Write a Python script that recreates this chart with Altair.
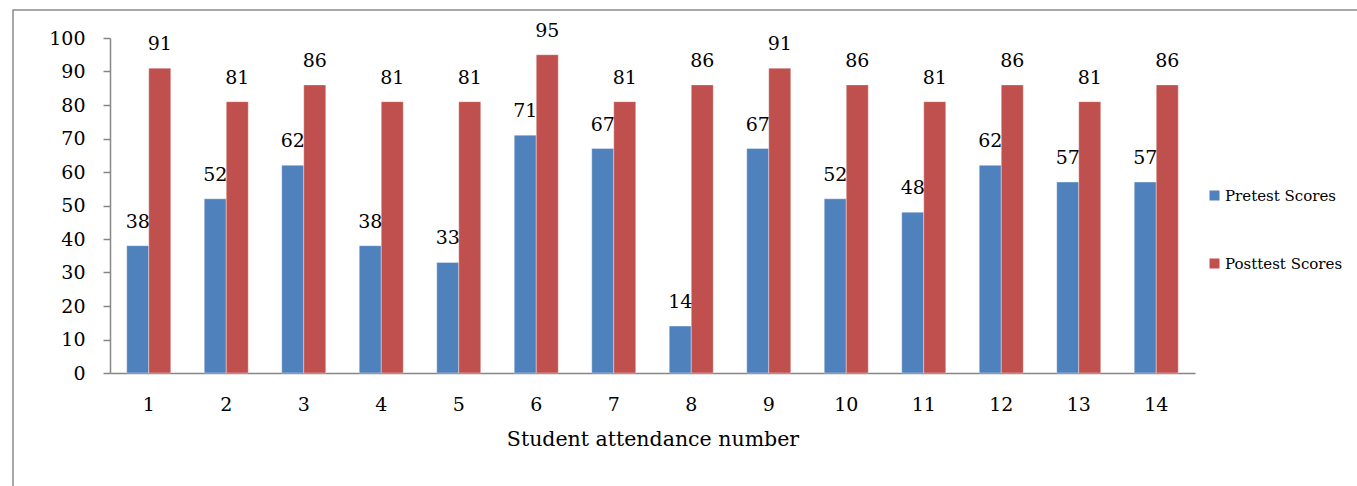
import altair as alt
import pandas as pd

students = [str(i) for i in range(1, 15)]
pretest = [38, 52, 62, 38, 33, 71, 67, 14, 67, 52, 48, 62, 57, 57]
posttest = [91, 81, 86, 81, 81, 95, 81, 86, 91, 86, 81, 86, 81, 86]
series = ["Pretest Scores", "Posttest Scores"]
colors = ["#4F81BD", "#C0504D"]
y_ticks = [0, 10, 20, 30, 40, 50, 60, 70, 80, 90, 100]

rows = []
for s, a, b in zip(students, pretest, posttest):
    rows.append({"student": s, "series": series[0], "score": a})
    rows.append({"student": s, "series": series[1], "score": b})
df = pd.DataFrame(rows)

FONT = "DejaVu Serif"

x = alt.X("student:N", sort=students,
          scale=alt.Scale(paddingInner=0.432, paddingOuter=0.216),
          axis=alt.Axis(title="Student attendance number", labelAngle=0, ticks=False,
                        labelPadding=22, titlePadding=15, domainColor="#868686",
                        domainWidth=1.5, labelFont=FONT, labelFontSize=19,
                        labelFontWeight="normal", labelColor="#000000",
                        titleFont=FONT, titleFontSize=20.5, titleFontWeight="normal",
                        titleColor="#000000"))
y = alt.Y("score:Q", scale=alt.Scale(domain=[0, 100]),
          axis=alt.Axis(title=None, values=y_ticks, grid=False, labelOverlap=False,
                        tickSize=7, tickColor="#868686", domainColor="#868686",
                        domainWidth=1.5, tickWidth=1.5, labelPadding=18,
                        labelFont=FONT, labelFontSize=19, labelColor="#000000"))
xoff = alt.XOffset("series:N", sort=series)
color = alt.Color("series:N", sort=series,
                  scale=alt.Scale(domain=series, range=colors),
                  legend=alt.Legend(title=None, orient="none", legendX=1097, legendY=150,
                                    symbolType="square", symbolSize=100,
                                    symbolStrokeWidth=0, labelFont=FONT,
                                    labelFontSize=15, labelColor="#000000",
                                    rowPadding=52, labelOffset=3))

bars = alt.Chart(df).mark_bar(stroke="#ffffff", strokeWidth=0.6, strokeOpacity=0.6).encode(
    x=x, xOffset=xoff, y=y, color=color)

labels = alt.Chart(df).mark_text(baseline="alphabetic", dy=-18, font=FONT,
                                 fontSize=19, color="#000000").encode(
    x=x, xOffset=xoff, y=y, text="score:Q")

frame = alt.Chart(pd.DataFrame({"k": [0]})).mark_rect(
    fill=None, stroke="#8a8a8a", strokeWidth=1.5).encode(
    x=alt.value(-97), x2=alt.value(1400), y=alt.value(-28), y2=alt.value(600))

chart = alt.layer(frame, bars, labels).properties(
    width=1085, height=335,
    background="#ffffff",
    autosize=alt.AutoSizeParams(type="none"),
    padding={"left": 110, "top": 38, "right": 162, "bottom": 113},
).configure_view(stroke=None)

chart.save("out.html", embed_options={"renderer": "svg", "actions": False})
